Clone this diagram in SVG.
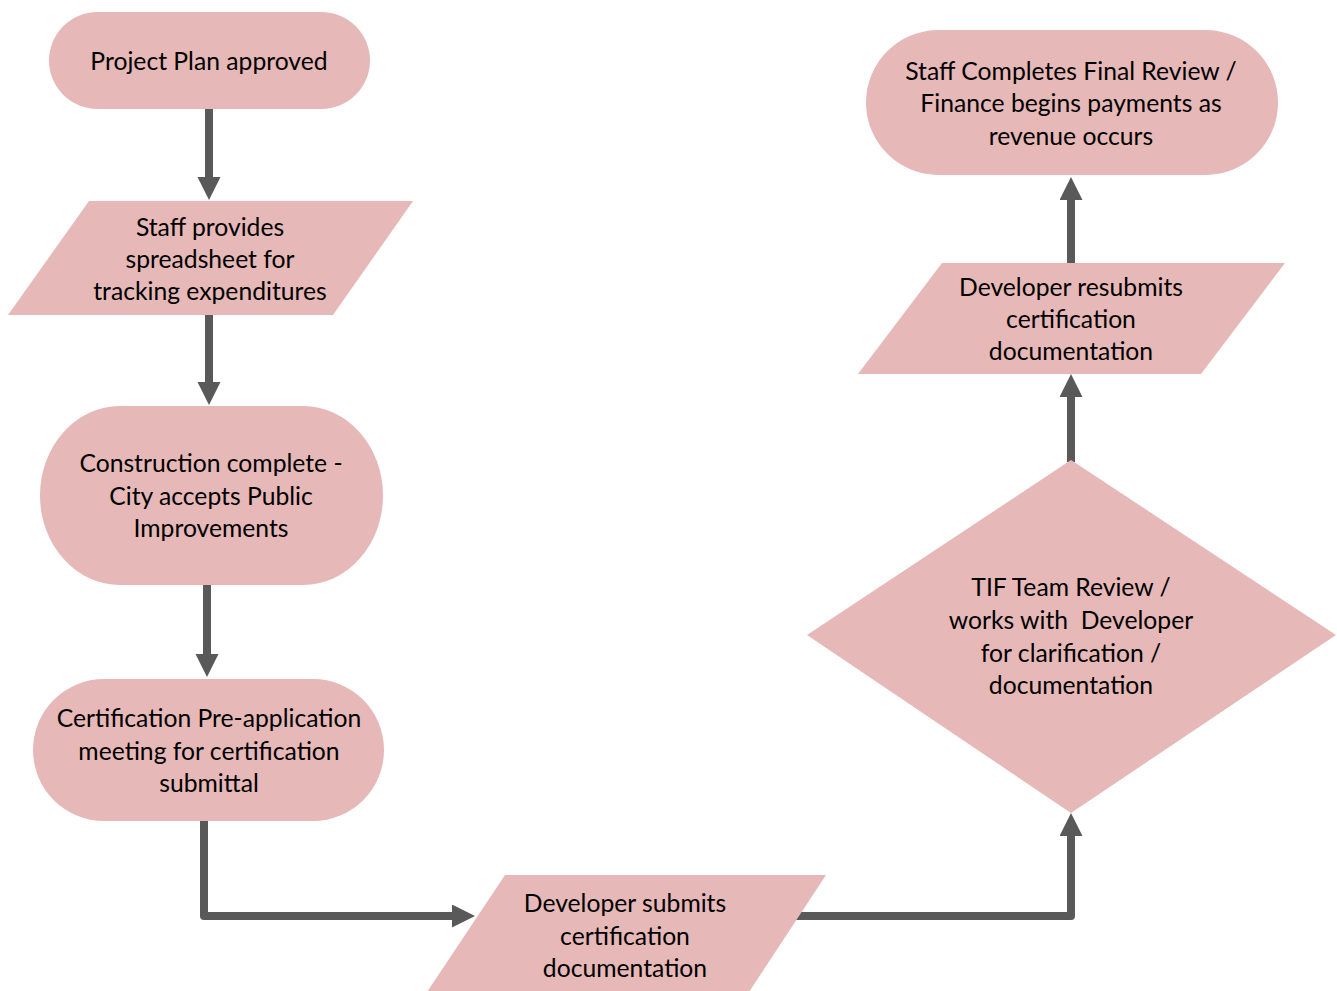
<svg xmlns="http://www.w3.org/2000/svg" width="1337" height="991" viewBox="0 0 1337 991">
<style>
.n{fill:#e6b8b7;stroke:none}
.t{font-family:Lato,"Open Sans","Liberation Sans",sans-serif;font-size:24.7px;fill:#000;text-anchor:middle}
.c{fill:none;stroke:#595959;stroke-width:8;stroke-linejoin:round}
</style>
<defs>
<marker id="ah" markerUnits="userSpaceOnUse" markerWidth="24" markerHeight="24" refX="0" refY="11.5" orient="auto" viewBox="0 0 24 24">
<path d="M0,0 L23,11.5 L0,23 Z" fill="#595959"/>
</marker>
</defs>
<rect width="1337" height="991" fill="#fff"/>
<g id="connectors">
<path class="c" d="M209,109 V177" marker-end="url(#ah)"/>
<path class="c" d="M209,315 V382" marker-end="url(#ah)"/>
<path class="c" d="M207,585 V654" marker-end="url(#ah)"/>
<path class="c" d="M204,821 V916 H452" marker-end="url(#ah)"/>
<path class="c" d="M795,916 H1071 V836" marker-end="url(#ah)"/>
<path class="c" d="M1071,462 V397" marker-end="url(#ah)"/>
<path class="c" d="M1071,265 V200" marker-end="url(#ah)"/>
</g>
<g id="n1">
<rect class="n" x="49" y="12" width="321" height="97" rx="48.5" ry="48.5"/>
<text class="t" x="209" y="70">Project Plan approved</text>
</g>
<g id="n2">
<polygon class="n" points="89,201 413,201 333,315 8,315"/>
<text class="t" x="210" y="236">Staff provides</text>
<text class="t" x="210" y="268">spreadsheet for</text>
<text class="t" x="210" y="300">tracking expenditures</text>
</g>
<g id="n3">
<rect class="n" x="40" y="406" width="343" height="179" rx="80" ry="89.5"/>
<text class="t" x="211" y="472">Construction complete -</text>
<text class="t" x="211" y="505">City accepts Public</text>
<text class="t" x="211" y="537">Improvements</text>
</g>
<g id="n4">
<rect class="n" x="33" y="679" width="351" height="142" rx="71" ry="71"/>
<text class="t" x="209" y="727">Certification Pre-application</text>
<text class="t" x="209" y="760">meeting for certification</text>
<text class="t" x="209" y="792">submittal</text>
</g>
<g id="n5">
<polygon class="n" points="505,875 826,875 749,992 427,992"/>
<text class="t" x="625" y="912">Developer submits</text>
<text class="t" x="625" y="945">certification</text>
<text class="t" x="625" y="977">documentation</text>
</g>
<g id="n6">
<polygon class="n" points="1071,460 1336,635 1071,813 807,635"/>
<text class="t" x="1071" y="596">TIF Team Review /</text>
<text class="t" x="1071" y="629" xml:space="preserve">works with  Developer</text>
<text class="t" x="1071" y="662">for clarification /</text>
<text class="t" x="1071" y="694">documentation</text>
</g>
<g id="n7">
<polygon class="n" points="942,263 1285,263 1201,374 858,374"/>
<text class="t" x="1071" y="296">Developer resubmits</text>
<text class="t" x="1071" y="328">certification</text>
<text class="t" x="1071" y="360">documentation</text>
</g>
<g id="n8">
<rect class="n" x="866" y="30" width="412" height="145" rx="72.5" ry="72.5"/>
<text class="t" x="1071" y="80">Staff Completes Final Review /</text>
<text class="t" x="1071" y="112">Finance begins payments as</text>
<text class="t" x="1071" y="145">revenue occurs</text>
</g>
</svg>
